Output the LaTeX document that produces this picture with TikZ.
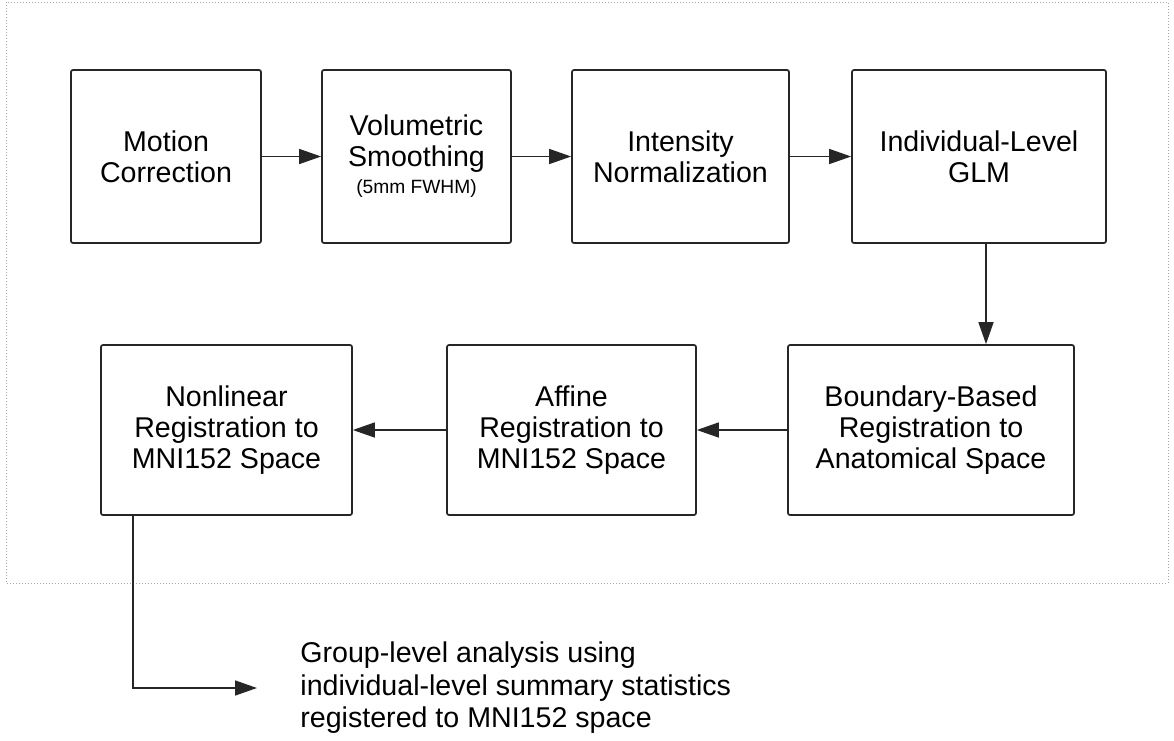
\documentclass[tikz,border=0pt]{standalone}
\usepackage{fontspec}
\setmainfont{Liberation Sans}
\usetikzlibrary{arrows.meta,positioning}

\begin{document}
\begin{tikzpicture}[x=0.5pt,y=-0.5pt,
  block/.style={draw=black!85,line width=0.85pt,rounded corners=1pt,align=center,
    minimum height=86.5pt,inner sep=0pt,font=\fontsize{14.3}{15.5}\selectfont},
  lowblock/.style={block,minimum height=85pt},
  flow/.style={-{Triangle[length=11pt,width=7.5pt]},line width=0.75pt,draw=black!85}]
\useasboundingbox (0,0) rectangle (1174,740);
\draw[gray!70,densely dotted,line width=0.5pt] (6,2) rectangle (1168,583);
\node[block,minimum width=95pt] (motion) at (166,156.5) {Motion\\Correction};
\node[block,minimum width=94.5pt] (smooth) at (416.5,156.5)
  {Volumetric\\Smoothing\\[-2pt]{\fontsize{9.6}{11}\selectfont(5mm FWHM)}};
\node[block,minimum width=108.5pt] (norm) at (680.5,156.5) {Intensity\\Normalization};
\node[block,minimum width=127pt] (glm) at (979,156.5) {Individual-Level\\GLM};
\node[lowblock,minimum width=143pt] (bbr) at (931,430)
  {Boundary-Based\\Registration to\\Anatomical Space};
\node[lowblock,minimum width=124.5pt] (affine) at (571.5,430)
  {Affine\\Registration to\\MNI152 Space};
\node[lowblock,minimum width=125.5pt] (nonlin) at (226.5,430)
  {Nonlinear\\Registration to\\MNI152 Space};
\node[anchor=west,align=left,inner sep=0pt,font=\fontsize{14.3}{16.25}\selectfont] (grp) at (300,688)
  {Group-level analysis using\\individual-level summary statistics\\registered to MNI152 space};
\draw[flow] (motion) -- (smooth);
\draw[flow] (smooth) -- (norm);
\draw[flow] (norm) -- (glm);
\draw[flow] ([xshift=3.5pt]glm.south) -- ([xshift=3.5pt]glm.south |- bbr.north);
\draw[flow] (bbr) -- (affine);
\draw[flow] (affine) -- (nonlin);
\draw[flow] ([xshift=-46.75pt]nonlin.south) |- ([xshift=-21.5pt]grp.west);
\end{tikzpicture}
\end{document}
